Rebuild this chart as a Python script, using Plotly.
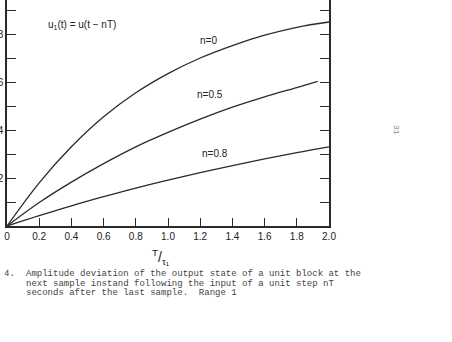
import plotly.graph_objects as go

# data
x_vals = [0, 0.2, 0.4, 0.6, 0.8, 1.0, 1.2, 1.4, 1.6, 1.8, 2.0]
n0 = [0, 0.18, 0.33, 0.455, 0.555, 0.635, 0.70, 0.752, 0.795, 0.828, 0.85]
x_n05 = [0, 0.2, 0.4, 0.6, 0.8, 1.0, 1.2, 1.4, 1.6, 1.8, 1.93]
n05 = [0, 0.098, 0.183, 0.26, 0.33, 0.39, 0.445, 0.495, 0.538, 0.577, 0.603]
n08 = [0, 0.043, 0.084, 0.122, 0.158, 0.191, 0.222, 0.252, 0.28, 0.306, 0.33]

x_tickvals = [0, 0.2, 0.4, 0.6, 0.8, 1.0, 1.2, 1.4, 1.6, 1.8, 2.0]
x_ticktext = ["0", "0.2", "0.4", "0.6", "0.8", "1.0", "1.2", "1.4", "1.6", "1.8", "2.0"]
y_tickvals = [0.1, 0.2, 0.3, 0.4, 0.5, 0.6, 0.7, 0.8, 0.9]
y_ticktext = ["", ".2", "", ".4", "", ".6", "", ".8", ""]

caption = [
    "Amplitude deviation of the output state of a unit block at the",
    "next sample instand following the input of a unit step nT",
    "seconds after the last sample.  Range 1",
]

W, H = 452, 342
L, R, T, B = 7, 329, 0, 226

def px(xp):
    return (xp - L) / (R - L)

def py(yp):
    return (B - yp) / (B - T)

line_col = "#2a2a2a"
fig = go.Figure()
for xs, ys in [(x_vals, n0), (x_n05, n05), (x_vals, n08)]:
    fig.add_trace(go.Scatter(x=xs, y=ys, mode="lines", line=dict(color=line_col, width=1.3, shape="spline", smoothing=1.0),
                             showlegend=False, hoverinfo="skip"))

lab_font = dict(family="Liberation Sans, Arial, sans-serif", size=10, color="#222")
ann = [
    dict(x=1.25, y=0.775, text="n=0"),
    dict(x=1.26, y=0.546, text="n=0.5"),
    dict(x=1.29, y=0.304, text="n=0.8"),
    dict(x=0.466, y=0.8375, text="u<sub>1</sub>(t) = u(t − nT)"),
]
for a in ann:
    fig.add_annotation(x=a["x"], y=a["y"], xref="x", yref="y", text=a["text"], showarrow=False,
                       font=lab_font, xanchor="center", yanchor="middle")

# axis title
fig.add_annotation(x=px(161), y=py(257), xref="paper", yref="paper",
                   text="<sup>T</sup>/<sub>τ₁</sub>", showarrow=False,
                   font=dict(family="Liberation Sans, Arial, sans-serif", size=14, color="#222"),
                   xanchor="center", yanchor="middle")

cap_font = dict(family="Liberation Mono, DejaVu Sans Mono, monospace", size=9, color="#444")
fig.add_annotation(x=px(2), y=py(274), xref="paper", yref="paper", text="4.", showarrow=False,
                   font=cap_font, xanchor="left", yanchor="middle")
for i, line in enumerate(caption):
    fig.add_annotation(x=px(24), y=py(274 + 9.6 * i), xref="paper", yref="paper", text=line,
                       showarrow=False, font=cap_font, xanchor="left", yanchor="middle")

# page number
fig.add_annotation(x=px(397), y=py(130), xref="paper", yref="paper", text="31", textangle=90,
                   showarrow=False, font=dict(family="Liberation Mono, monospace", size=8, color="#888"),
                   xanchor="center", yanchor="middle")

tick_font = dict(family="Liberation Sans, Arial, sans-serif", size=10, color="#222")
fig.update_layout(
    width=W, height=H,
    margin=dict(l=L, r=W - R, t=T, b=H - B, pad=0),
    paper_bgcolor="white", plot_bgcolor="white",
    xaxis=dict(range=[0, 2.0], tickvals=x_tickvals, ticktext=x_ticktext, ticks="inside", ticklen=8,
               tickwidth=1.2, tickcolor=line_col, showline=True, linecolor=line_col, linewidth=1.5,
               showgrid=False, zeroline=False, tickfont=tick_font, automargin=False, mirror=False),
    yaxis=dict(range=[0, 226 / 240], tickvals=y_tickvals, ticktext=y_ticktext, ticks="inside", ticklen=9,
               tickwidth=1.2, tickcolor=line_col, showline=True, linecolor=line_col, linewidth=1.5,
               mirror="ticks", showgrid=False, zeroline=False, tickfont=tick_font, automargin=False,
               ticklabelstandoff=0),
)

fig.write_html("out.html")
